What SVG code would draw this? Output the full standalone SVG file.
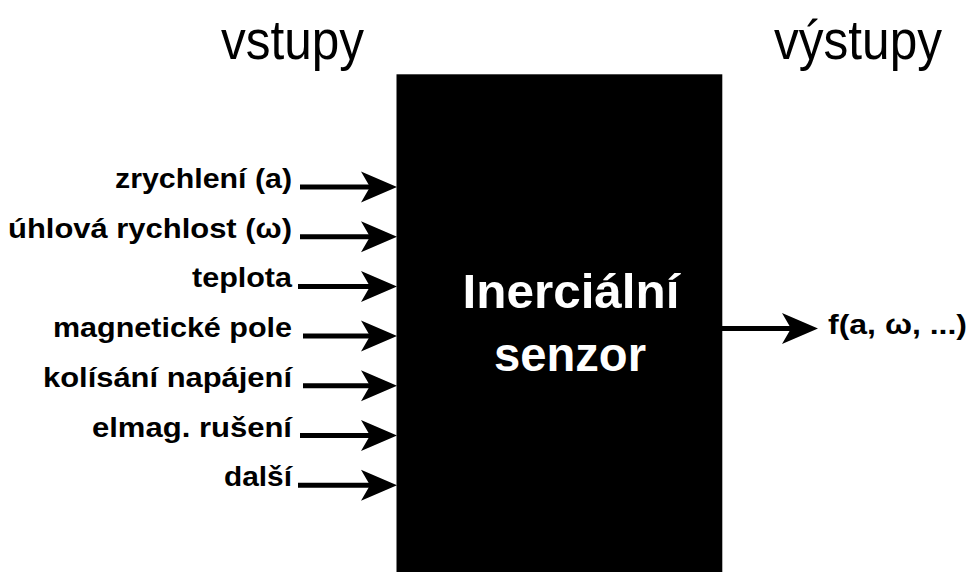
<svg xmlns="http://www.w3.org/2000/svg" width="971" height="572" viewBox="0 0 971 572">
  <defs>
    <marker id="head" markerUnits="userSpaceOnUse" markerWidth="36" markerHeight="31" viewBox="0 0 36 31" refX="9" refY="15.5" orient="auto" overflow="visible">
      <path d="M0,0 L36,15.5 L0,31 L9,15.5 Z" fill="#000"/>
    </marker>
  </defs>
  <style>
    .title { font-family: "Liberation Sans", Arial, sans-serif; font-size: 56px; fill: #000; }
    .lbl { font-family: "Liberation Sans", Arial, sans-serif; font-weight: bold; font-size: 27.5px; fill: #000; }
    .big { font-family: "Liberation Sans", Arial, sans-serif; font-weight: bold; font-size: 48px; fill: #fff; }
    .wire { stroke: #000; stroke-width: 5; fill: none; marker-end: url(#head); }
  </style>
  <rect width="971" height="572" fill="#fff"/>

  <g id="titles">
    <text class="title" x="221" y="59" textLength="143" lengthAdjust="spacingAndGlyphs">vstupy</text>
    <text class="title" x="774" y="59" textLength="168" lengthAdjust="spacingAndGlyphs">výstupy</text>
  </g>

  <g id="sensor">
    <rect x="396.5" y="74.3" width="325.8" height="510" fill="#000"/>
    <text class="big" x="571" y="308" text-anchor="middle" textLength="217" lengthAdjust="spacingAndGlyphs">Inerciální</text>
    <text class="big" x="570" y="371" text-anchor="middle" textLength="152" lengthAdjust="spacingAndGlyphs">senzor</text>
  </g>

  <g id="in-acc"><text class="lbl" x="292" y="188" text-anchor="end" textLength="177" lengthAdjust="spacingAndGlyphs">zrychlení (a)</text></g>
  <g id="in-gyro"><text class="lbl" x="292" y="237.7" text-anchor="end" textLength="284" lengthAdjust="spacingAndGlyphs">úhlová rychlost (ω)</text></g>
  <g id="in-temp"><text class="lbl" x="292" y="287.4" text-anchor="end" textLength="100" lengthAdjust="spacingAndGlyphs">teplota</text></g>
  <g id="in-mag"><text class="lbl" x="292" y="337.1" text-anchor="end" textLength="239" lengthAdjust="spacingAndGlyphs">magnetické pole</text></g>
  <g id="in-supply"><text class="lbl" x="292" y="386.8" text-anchor="end" textLength="249" lengthAdjust="spacingAndGlyphs">kolísání napájení</text></g>
  <g id="in-emi"><text class="lbl" x="292" y="436.5" text-anchor="end" textLength="200" lengthAdjust="spacingAndGlyphs">elmag. rušení</text></g>
  <g id="in-other"><text class="lbl" x="292" y="486.2" text-anchor="end" textLength="68" lengthAdjust="spacingAndGlyphs">další</text></g>

  <g id="out-f"><text class="lbl" x="828" y="334" textLength="139" lengthAdjust="spacingAndGlyphs">f(a, ω, ...)</text></g>

  <g id="connectors">
    <line class="wire" x1="300" y1="187" x2="370" y2="187"/>
    <line class="wire" x1="300" y1="236.7" x2="370" y2="236.7"/>
    <line class="wire" x1="298" y1="286.4" x2="370" y2="286.4"/>
    <line class="wire" x1="303" y1="336.1" x2="370" y2="336.1"/>
    <line class="wire" x1="303" y1="385.8" x2="370" y2="385.8"/>
    <line class="wire" x1="300" y1="435.5" x2="370" y2="435.5"/>
    <line class="wire" x1="298" y1="485.2" x2="370" y2="485.2"/>
    <line class="wire" x1="722" y1="328.5" x2="791" y2="328.5"/>
  </g>
</svg>
